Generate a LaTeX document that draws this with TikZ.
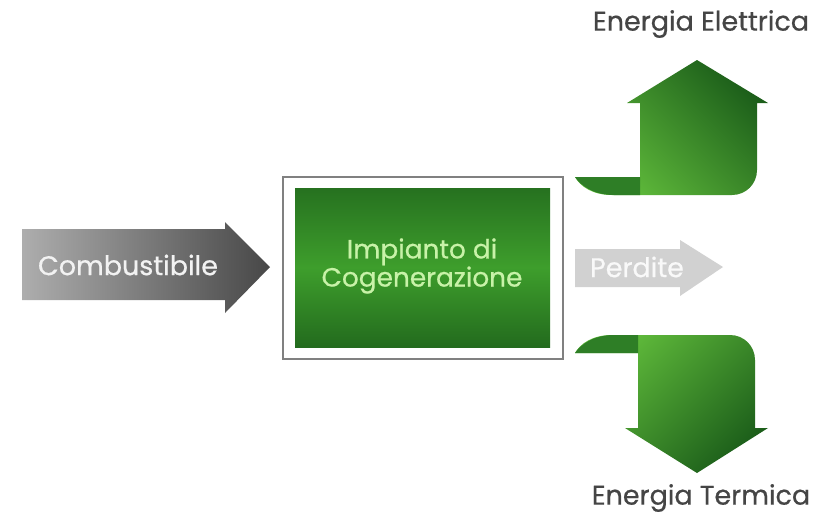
\documentclass[tikz,border=0pt]{standalone}
\usepackage{fontspec}
\setmainfont{Poppins}
\newfontfamily\heavier{Poppins}[FakeBold=0.6]
\definecolor{labelgray}{HTML}{454545}
\definecolor{boxtext}{HTML}{C8F2A8}
\definecolor{leafdark}{HTML}{1C5E1A}
\definecolor{leafmid}{HTML}{3E9E2C}
\definecolor{leaflight}{HTML}{62BE3C}
\definecolor{flapgreen}{HTML}{2E7E26}
\begin{document}
\begin{tikzpicture}[x=0.03cm,y=-0.03cm,
    label/.style={text=labelgray,font=\heavier\fontsize{23}{26}\selectfont},
    inarrow/.style={text=white!90!gray,font=\heavier\fontsize{23}{26}\selectfont}]
    \useasboundingbox (0,0) rectangle (838,518);

    % combustibile
    \shade[left color=black!32,right color=black!72]
        (22,229) -- (225,229) -- (225,222) -- (270,267) -- (225,313) -- (225,300) -- (22,300) -- cycle;
    \node[inarrow] (fuel) at (128,265) {Combustibile};

    % impianto
    \draw[black!50,line width=1.2pt,fill=white] (283,177) rectangle (563,359);
    \shade[top color=leafdark!70!leafmid,bottom color=leafdark!80!leafmid,middle color=leafmid]
        (295,188) rectangle (550,347);
    \node[text=boxtext,font=\heavier\fontsize{22.5}{24}\selectfont,align=center] (plant) at (422,266)
        {Impianto di\\Cogenerazione};

    % perdite
    \fill[black!18]
        (575,249) -- (680,249) -- (680,240) -- (723,267) -- (680,296) -- (680,287) -- (575,287) -- cycle;
    \node[inarrow,text=white!95!gray] (loss) at (637,267) {Perdite};

    % energia elettrica
    \shade[left color=leaflight,right color=leafdark,shading angle=135]
        (575,177) -- (640,177) -- (640,103) -- (627,103) -- (697,60) -- (768,103) -- (757,103)
        -- (757,170) .. controls (757,184) and (746,195) .. (732,195)
        -- (612,195) .. controls (592,195) and (580,186) .. cycle;
    \fill[flapgreen]
        (575,177) -- (640,177) -- (640,195) -- (614,195) .. controls (594,195) and (581,186) .. cycle;
    \node[label] (elec) at (701,24) {Energia Elettrica};

    % energia termica
    \shade[left color=leaflight,right color=leafdark,shading angle=45]
        (575,353) -- (638,353) -- (638,428) -- (625,428) -- (697,473) -- (768,428) -- (755,428)
        -- (755,360) .. controls (755,346) and (744,335) .. (730,335)
        -- (612,335) .. controls (592,335) and (580,344) .. cycle;
    \fill[flapgreen]
        (575,353) -- (638,353) -- (638,335) -- (614,335) .. controls (594,335) and (581,344) .. cycle;
    \node[label] (heat) at (701,498) {Energia Termica};
\end{tikzpicture}
\end{document}
